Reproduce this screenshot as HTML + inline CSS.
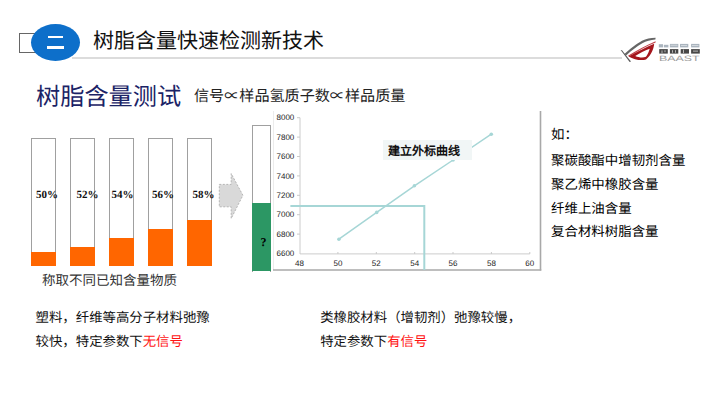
<!DOCTYPE html>
<html lang="zh-CN">
<head>
<meta charset="utf-8">
<style>
html,body{margin:0;padding:0;background:#fff;}
body{width:720px;height:405px;position:relative;overflow:hidden;font-family:"Liberation Sans",sans-serif;text-rendering:geometricPrecision;}
.a{position:absolute;white-space:nowrap;line-height:1;}
.serif{font-family:"Liberation Serif",serif;}
.bar{position:absolute;width:23px;border:1px solid #a0a0a0;border-bottom:none;top:138px;height:127px;background:#fff;}
.fill{position:absolute;left:-1px;right:-1px;bottom:0;background:#ff6600;}
.pct{position:absolute;top:189.8px;font:bold 11px "Liberation Serif",serif;color:#111;line-height:1;}
</style>
</head>
<body>
<!-- header -->
<div class="a" style="left:19px;top:33px;width:18px;height:18px;border:1px solid #666;"></div>
<div class="a" style="left:31px;top:24px;width:49px;height:37px;border-radius:50%;background:#0d6fca;"></div>
<div class="a" style="left:48px;top:35.6px;width:15px;height:2.9px;background:#fff;"></div>
<div class="a" style="left:46.5px;top:45.8px;width:17.5px;height:3.1px;background:#fff;"></div>
<div class="a" style="left:72px;top:57px;width:550px;height:2px;background:#dcdcdc;"></div>
<div class="a" style="left:93px;top:30.5px;font-size:21px;color:#111;font-weight:500;">树脂含量快速检测新技术</div>

<!-- logo -->
<svg class="a" style="left:615px;top:33px;" width="95" height="32" viewBox="615 33 95 32">
  <path d="M624.2 54.2 C630 49 637 43.6 642 40.8 C646 38.8 650.5 38 655.6 37.8 L655.4 39.6 C650.5 40 646.2 41.2 642.3 43.2 C636.8 46.2 631.5 50.6 626.4 55.2 Z" fill="#666"/>
  <path d="M620.6 50 L622 50.2 L631 61.4 L629.6 61.9 Z" fill="#5c5c5c"/>
  <path d="M628 55.8 C637 50.2 646 45.2 655.6 41.2 L655.6 42.5 C646 46.2 637.5 51.2 629 56.6 Z" fill="#c24048"/>
  <path d="M628.6 56.4 C637 52 646 47.4 654.2 43.8 C653.6 49.2 651.2 55.2 646 59.6 C640.5 61 634 59.4 628.6 56.4 Z M635.2 56 C639 57.6 643 58.1 646 56.7 C647.9 54.3 649 51.6 649.7 48.8 C644.5 50.8 639.6 53.2 635.2 56 Z" fill="#a5161d" fill-rule="evenodd"/>
  <g fill="#aab4be">
    <rect x="658.8" y="44.2" width="4.2" height="3.2"/><rect x="663.8" y="44.8" width="4.6" height="2.6"/>
    <rect x="669.9" y="43.9" width="8.4" height="3.5"/>
    <rect x="680" y="43.9" width="8.3" height="3.5"/>
    <rect x="691.1" y="43.9" width="8.3" height="3.5"/>
  </g>
  <g fill="#474747">
    <rect x="659.2" y="49.1" width="8.6" height="4.5"/>
    <rect x="669.9" y="49.1" width="8.4" height="4.5"/>
    <rect x="680.7" y="49.1" width="8.3" height="4.5"/>
    <rect x="691.1" y="49.1" width="8.7" height="4.5"/>
  </g>
  <g fill="#fff" opacity="0.6">
    <rect x="672" y="50.2" width="1" height="2.5"/><rect x="675" y="50.2" width="1" height="2.5"/>
    <rect x="683" y="49.6" width="1" height="3.5"/><rect x="693" y="50.6" width="5" height="1"/>
    <rect x="661.5" y="50.4" width="1" height="2.8"/><rect x="664.5" y="50.2" width="1" height="2"/>
    <rect x="670.5" y="44.8" width="7" height="0.8"/><rect x="681" y="45.2" width="6" height="0.8"/><rect x="692" y="45" width="6.5" height="0.8"/>
  </g>
  <text x="659" y="60.9" font-family="Liberation Sans" font-size="7.8" fill="#9a9a9a" textLength="40.5" lengthAdjust="spacingAndGlyphs">BAAST</text>
</svg>

<!-- heading -->
<div class="a" style="left:36px;top:85.5px;font-size:24.2px;color:#1b2366;font-weight:500;">树脂含量测试</div>
<div class="a serif" style="left:194px;top:89.5px;font-size:15.1px;color:#222;">信号∝样品氢质子数∝样品质量</div>

<!-- bars -->
<div class="bar" style="left:31px;"><div class="fill" style="height:14px;"></div></div>
<div class="bar" style="left:70px;"><div class="fill" style="height:19px;"></div></div>
<div class="bar" style="left:109px;"><div class="fill" style="height:28px;"></div></div>
<div class="bar" style="left:148px;"><div class="fill" style="height:37px;"></div></div>
<div class="bar" style="left:186.5px;"><div class="fill" style="height:46px;"></div></div>
<div class="pct" style="left:36px;">50%</div>
<div class="pct" style="left:76.5px;">52%</div>
<div class="pct" style="left:111.5px;">54%</div>
<div class="pct" style="left:152px;">56%</div>
<div class="pct" style="left:192.5px;">58%</div>
<div class="a serif" style="left:42px;top:274px;font-size:13.5px;color:#333;">称取不同已知含量物质</div>

<!-- arrow -->
<svg class="a" style="left:0;top:0;" width="720" height="405">
  <polygon points="219.3,184.4 231.2,184.4 231.2,173.6 242.9,195.3 231.2,218.5 231.2,206.8 219.3,206.8" fill="#d9d9d9" stroke="#b5b5b5" stroke-width="1" stroke-dasharray="2,1.5"/>
</svg>

<!-- green column -->
<div class="a" style="left:251.5px;top:124.5px;width:17.5px;height:146px;border:1px solid #a0a0a0;border-bottom:none;"></div>
<div class="a" style="left:251.5px;top:203px;width:19.5px;height:68px;background:#2c9764;"></div>
<div class="a serif" style="left:260.5px;top:236px;font-size:12px;font-weight:bold;color:#000;">?</div>

<!-- chart -->
<svg class="a" style="left:0;top:0;" width="720" height="405">
  <line x1="273.5" y1="111" x2="273.5" y2="270" stroke="#ececec" stroke-width="1"/>
  <line x1="540.5" y1="111" x2="540.5" y2="270.5" stroke="#a8a8a8" stroke-width="1.6"/>
  <line x1="273" y1="270" x2="541.3" y2="270" stroke="#a8a8a8" stroke-width="1.6"/>
  <line x1="300" y1="117.7" x2="300" y2="254" stroke="#cccccc" stroke-width="1"/>
  <line x1="300" y1="253.9" x2="529.8" y2="253.9" stroke="#cccccc" stroke-width="1"/>
  <g stroke="#cacaca" stroke-width="1">
    <line x1="297" y1="117.7" x2="300" y2="117.7"/>
    <line x1="297" y1="137.1" x2="300" y2="137.1"/>
    <line x1="297" y1="156.5" x2="300" y2="156.5"/>
    <line x1="297" y1="175.9" x2="300" y2="175.9"/>
    <line x1="297" y1="195.3" x2="300" y2="195.3"/>
    <line x1="297" y1="214.7" x2="300" y2="214.7"/>
    <line x1="297" y1="234.1" x2="300" y2="234.1"/>
    <line x1="337.9" y1="252" x2="337.9" y2="254"/>
    <line x1="376.3" y1="252" x2="376.3" y2="254"/>
    <line x1="414.7" y1="252" x2="414.7" y2="254"/>
    <line x1="453.0" y1="252" x2="453.0" y2="254"/>
    <line x1="491.4" y1="252" x2="491.4" y2="254"/>
    <line x1="529.8" y1="252" x2="529.8" y2="254"/>
  </g>
  <g font-family="Liberation Sans" font-size="8" fill="#1a1a1a" text-anchor="end">
    <text x="294.3" y="120.3">8000</text>
    <text x="294.3" y="139.7">7800</text>
    <text x="294.3" y="159.1">7600</text>
    <text x="294.3" y="178.5">7400</text>
    <text x="294.3" y="197.9">7200</text>
    <text x="294.3" y="217.3">7000</text>
    <text x="294.3" y="236.7">6800</text>
    <text x="294.3" y="256.1">6600</text>
  </g>
  <g font-family="Liberation Sans" font-size="8" fill="#1a1a1a" text-anchor="middle">
    <text x="299.5" y="265.7">48</text>
    <text x="337.9" y="265.7">50</text>
    <text x="376.3" y="265.7">52</text>
    <text x="414.7" y="265.7">54</text>
    <text x="453.0" y="265.7">56</text>
    <text x="491.4" y="265.7">58</text>
    <text x="529.8" y="265.7">60</text>
  </g>
  <polyline points="338.9,239.2 376.7,212.4 414.4,185.8 453.1,160 491.3,134.2" fill="none" stroke="#a6d6d6" stroke-width="1.5"/>
  <g fill="#a6d6d6">
    <circle cx="338.9" cy="239.2" r="1.8"/>
    <circle cx="376.7" cy="212.4" r="1.8"/>
    <circle cx="414.4" cy="185.8" r="1.8"/>
    <circle cx="453.1" cy="160" r="1.8"/>
    <circle cx="491.3" cy="134.2" r="1.8"/>
  </g>
  <polyline points="290.4,205.9 424.3,205.9 424.3,270" fill="none" stroke="#a6d6d6" stroke-width="2"/>
</svg>
<div class="a" style="left:382.5px;top:139.5px;width:89.5px;height:20.3px;background:#f1f6f6;"></div>
<div class="a" style="left:388px;top:144.5px;font-size:12px;font-weight:bold;color:#111;">建立外标曲线</div>

<!-- right list -->
<div class="a serif" style="left:551px;top:128px;font-size:13.45px;color:#000;font-weight:500;">如：</div>
<div class="a serif" style="left:551px;top:154px;font-size:13.45px;color:#000;font-weight:500;">聚碳酸酯中增韧剂含量</div>
<div class="a serif" style="left:551px;top:178px;font-size:13.45px;color:#000;font-weight:500;">聚乙烯中橡胶含量</div>
<div class="a serif" style="left:551px;top:202px;font-size:13.45px;color:#000;font-weight:500;">纤维上油含量</div>
<div class="a serif" style="left:551px;top:225px;font-size:13.45px;color:#000;font-weight:500;">复合材料树脂含量</div>

<!-- bottom texts -->
<div class="a" style="left:35.6px;top:310.7px;font-size:13.4px;color:#111;">塑料，纤维等高分子材料弛豫</div>
<div class="a" style="left:35.6px;top:334.7px;font-size:13.4px;color:#111;">较快，特定参数下<span style="color:#ff1414;">无信号</span></div>
<div class="a" style="left:320.2px;top:310.7px;font-size:13.4px;color:#111;">类橡胶材料（增韧剂）弛豫较慢，</div>
<div class="a" style="left:320.2px;top:334.7px;font-size:13.4px;color:#111;">特定参数下<span style="color:#ff1414;">有信号</span></div>
</body>
</html>
